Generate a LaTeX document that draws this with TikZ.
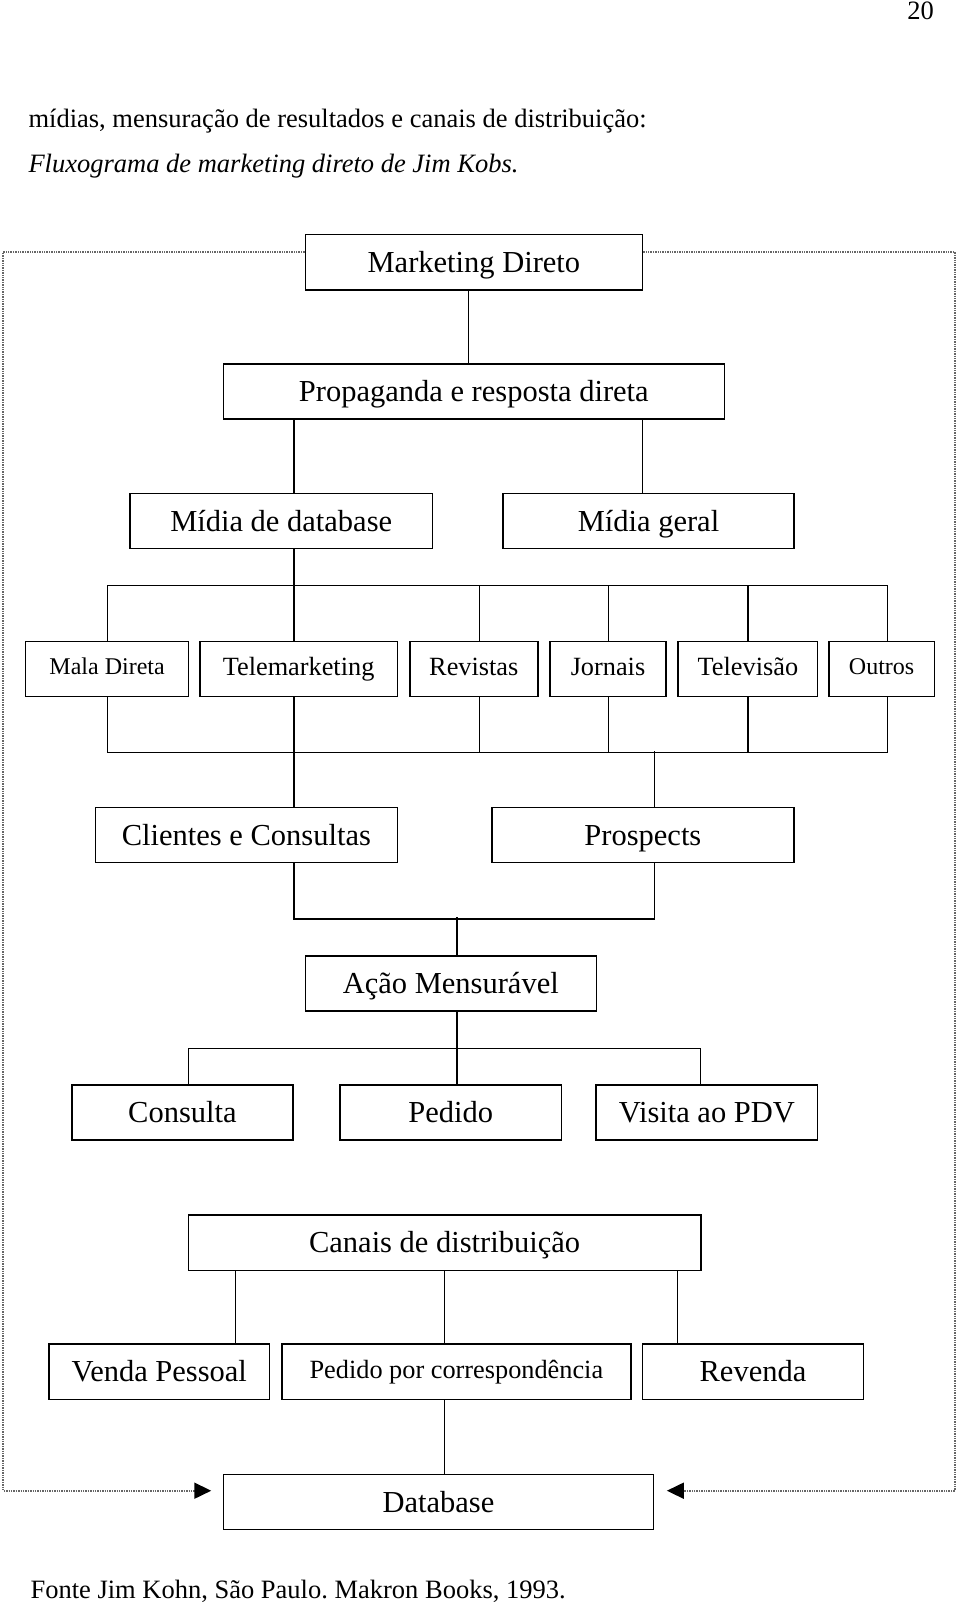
\documentclass[tikz,border=0pt]{standalone}
\usepackage{fontspec}
\setmainfont{Liberation Serif}
\usetikzlibrary{arrows.meta,positioning,calc}
\frenchspacing

\begin{document}
\begin{tikzpicture}[x = 1pt, y = -1pt, every node/.style={anchor = center, font = \fontsize{30.5}{36}\selectfont},
  caixa/.style={draw, line width = 1.6pt, inner sep = 0pt, minimum height = 55.3pt, text height = 20.5pt, text depth = 0.5pt},
  menor/.style={font = \fontsize{26.3}{30}\selectfont, text height = 17.5pt, text depth = 5pt},
  minimo/.style={font = \fontsize{24}{28}\selectfont, text height = 16.5pt, text depth = 5.5pt},
  pagina/.style={font = \fontsize{26.5}{32}\selectfont},
  liga/.style={line width = 1.3pt},
  borda/.style={line width = 1.8pt, black!60, dash pattern = on 1.4pt off 1pt, -{Triangle[length = 17pt, width = 16pt, black]}}]
\useasboundingbox (0,0) rectangle (960,1606);
\node[pagina, anchor = base east] (pag) at (937.4,19.5) {20};
\node[pagina, anchor = base west] (txt1) at (25,127.5) {mídias, mensuração de resultados e canais de distribuição:};
\node[pagina, anchor = base west] (txt2) at (25,172) {\itshape Fluxograma de marketing direto de Jim Kobs.};
\node[pagina, anchor = base west] (fonte) at (27,1598) {Fonte Jim Kohn, São Paulo. Makron Books, 1993.};
\node[caixa, minimum width = 337.1pt] (mkt) at (473.9,262.3) {Marketing Direto};
\node[caixa, minimum width = 501pt] (prop) at (473.8,391.4) {Propaganda e resposta direta};
\node[caixa, minimum width = 302.2pt] (mdb) at (281.2,521) {Mídia de database};
\node[caixa, minimum width = 291pt] (mger) at (648.5,521) {Mídia geral};
\node[caixa, minimo, minimum width = 162.9pt] (mala) at (107.1,669) {Mala Direta};
\node[caixa, menor, minimum width = 197.7pt] (tele) at (298.6,669) {Telemarketing};
\node[caixa, menor, minimum width = 128.1pt] (rev) at (473.8,669) {Revistas};
\node[caixa, menor, minimum width = 115.7pt] (jor) at (608,669) {Jornais};
\node[caixa, menor, minimum width = 139.4pt] (telev) at (747.9,669) {Televisão};
\node[caixa, minimo, minimum width = 105.5pt] (outr) at (881.6,669) {Outros};
\node[caixa, minimum width = 302.2pt] (cli) at (246.4,835) {Clientes e Consultas};
\node[caixa, minimum width = 302.2pt] (pros) at (642.9,835) {Prospects};
\node[caixa, minimum width = 291pt] (acao) at (450.8,983.5) {Ação Mensurável};
\node[caixa, minimum width = 221.3pt] (cons) at (182.4,1112.6) {Consulta};
\node[caixa, minimum width = 221.3pt] (ped) at (450.8,1112.6) {Pedido};
\node[caixa, minimum width = 221.3pt] (vis) at (706.9,1112.6) {Visita ao PDV};
\node[caixa, minimum width = 512.3pt] (canais) at (444.6,1242.7) {Canais de distribuição};
\node[caixa, minimum width = 220.2pt] (venda) at (159.3,1371.8) {Venda Pessoal};
\node[caixa, menor, minimum width = 349.4pt] (corresp) at (456.4,1371.8) {Pedido por correspondência};
\node[caixa, minimum width = 221.3pt] (revenda) at (753,1371.8) {Revenda};
\node[caixa, minimum width = 430.3pt] (db) at (438.5,1502) {Database};
\draw[liga] ([xshift = -5.7pt]mkt.south) -- ([xshift = -5.7pt]mkt.south |- prop.north);
\draw[liga] ([xshift = 12.8pt]mdb.north) -- ([xshift = 12.8pt]mdb.north |- prop.south);
\draw[liga] ([xshift = -6.1pt]mger.north) -- ([xshift = -6.1pt]mger.north |- prop.south);
\draw[liga] ([xshift = 12.8pt]mdb.south) -- ([xshift = -4.6pt]tele.north);
\draw[liga] ([xshift = 0.5pt]mala.north) |- ++(0,-55.3) -| ([xshift = 5.6pt]outr.north);
\draw[liga] ([xshift = 5.7pt]rev.north) -- ++(0,-55.3);
\draw[liga] ([xshift = 0.6pt]jor.north) -- ++(0,-55.3);
\draw[liga] (telev.north) -- ++(0,-55.3);
\draw[liga] ([xshift = 0.5pt]mala.south) |- ++(0,55.3) -| ([xshift = 5.6pt]outr.south);
\draw[liga] ([xshift = 5.7pt]rev.south) -- ++(0,55.3);
\draw[liga] ([xshift = 0.6pt]jor.south) -- ++(0,55.3);
\draw[liga] (telev.south) -- ++(0,55.3);
\draw[liga] ([xshift = -4.6pt]tele.south) -- ([xshift = 47.6pt]cli.north);
\draw[liga] ([xshift = 11.8pt]pros.north) -- ++(0,-55.3);
\draw[liga] ([xshift = 47.6pt]cli.south) |- ++(0,55.4) -| ([xshift = 11.8pt]pros.south);
\draw[liga] ([xshift = 6.1pt]acao.north) -- ++(0,-37.9);
\draw[liga] ([xshift = 6.1pt]acao.south) -- ([xshift = 6.1pt]ped.north);
\draw[liga] ([xshift = 6.1pt]cons.north) |- ++(0,-35.9) -| ([xshift = -6.1pt]vis.north);
\draw[liga] ([xshift = 76.3pt]venda.north) -- ([xshift = 76.3pt]venda.north |- canais.south);
\draw[liga] ([xshift = -11.8pt]corresp.north) -- ([xshift = -11.8pt]corresp.north |- canais.south);
\draw[liga] ([xshift = -75.8pt]revenda.north) -- ([xshift = -75.8pt]revenda.north |- canais.south);
\draw[liga] ([xshift = -11.8pt]corresp.south) -- ([xshift = -11.8pt]corresp.south |- db.north);
\coordinate (bse) at (3.1,252);
\coordinate (bsd) at (954.8,252);
\coordinate (bie) at (3.1,1490.7);
\coordinate (bid) at (954.8,1490.7);
\draw[borda] ([yshift = 10.3pt]mkt.west) -- (bse) -- (bie) -- ([xshift = -11.3pt]db.west |- bie);
\draw[borda] ([yshift = 10.3pt]mkt.east) -- (bsd) -- (bid) -- ([xshift = 12.4pt]db.east |- bid);
\end{tikzpicture}
\end{document}
